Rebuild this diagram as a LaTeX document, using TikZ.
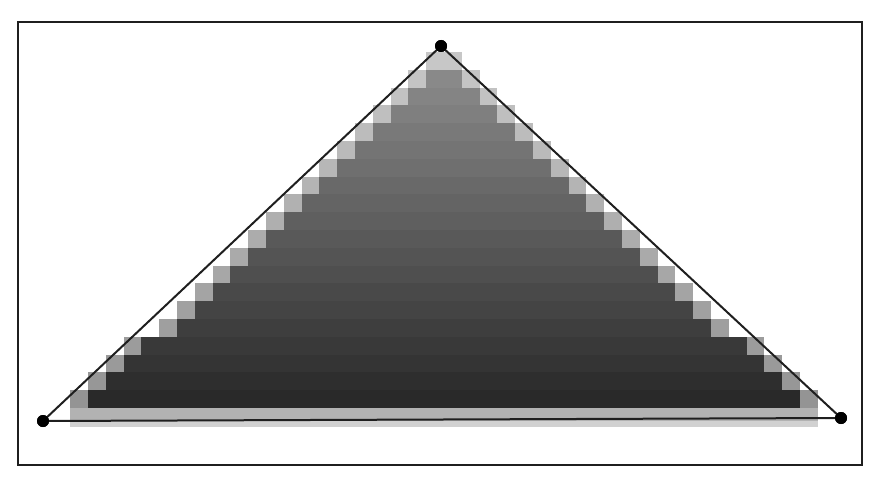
\documentclass[tikz,border=0pt]{standalone}
\usetikzlibrary{calc}

\begin{document}
\begin{tikzpicture}[
    x=1pt, y=-1pt,
    % 组件样式
    frame/.style={draw=black!88, line width=2pt},
    edgeline/.style={draw=black!88, line width=2pt, line join=round},
    vertex/.style={circle, fill=black, inner sep=0pt, minimum size=12pt},
    litband/.style={fill=black!30},
    shadeband/.style={fill=black!18}
]

% 栅格尺寸定义
\def\Cell{17.8}    % 像素方格边长
\def\Xmid{444}     % 方格列的零点
\def\Ytop{52}      % 第一行方格顶部

\useasboundingbox (0,0) rectangle (880,495);

% ==========================================
% 1. 外框
% ==========================================
\draw[frame] (18,22) rectangle (862,465);

% ==========================================
% 2. 三角形顶点
% ==========================================
\node[vertex] (apex)  at (441,46)  {};
\node[vertex] (left)  at (43,421)  {};
\node[vertex] (right) at (841,418) {};

% ==========================================
% 3. 栅格化的像素行 (内部深色渐变, 两端浅色)
% ==========================================
\foreach \r in {1,...,20} {
    \pgfmathtruncatemacro\jl{\r<17 ? -\r : -\r-1}
    \pgfmathtruncatemacro\jr{\r<17 ? \r-1 : \r}
    \pgfmathsetmacro\dk{44+2.1*(\r-1)}
    \pgfmathsetmacro\lt{\dk/2}
    \pgfmathsetmacro\ya{\Ytop+(\r-1)*\Cell}
    \fill[black!\dk] ({\Xmid+(\jl+1)*\Cell},\ya) rectangle ({\Xmid+\jr*\Cell},{\ya+\Cell+0.3});
    \fill[black!\lt] ({\Xmid+\jl*\Cell},\ya) rectangle ++(\Cell,\Cell+0.3);
    \fill[black!\lt] ({\Xmid+\jr*\Cell},\ya) rectangle ++(\Cell,\Cell+0.3);
}

% 底部浅色的半覆盖行
\fill[litband] ({\Xmid-21*\Cell},408) rectangle ({\Xmid+21*\Cell},421);
\fill[shadeband] ({\Xmid-21*\Cell},421) rectangle ({\Xmid+21*\Cell},427);

% ==========================================
% 4. 三角形边线
% ==========================================
\draw[edgeline] (left.center) -- (apex.center) -- (right.center) -- cycle;

% 顶点圆点压在边线之上
\node[vertex] at (apex)  {};
\node[vertex] at (left)  {};
\node[vertex] at (right) {};

\end{tikzpicture}
\end{document}
